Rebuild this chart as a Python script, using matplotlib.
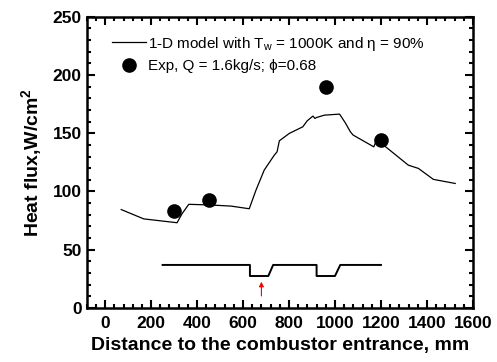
import numpy as np
import matplotlib.pyplot as plt
from matplotlib.ticker import MultipleLocator

plt.rcParams['font.family'] = ['Liberation Sans', 'DejaVu Sans']
plt.rcParams['mathtext.fontset'] = 'custom'
plt.rcParams['mathtext.rm'] = 'Liberation Sans'
plt.rcParams['mathtext.it'] = 'Liberation Sans:italic'
plt.rcParams['mathtext.bf'] = 'Liberation Sans:bold'

# 1-D model curve
model_x = [70, 168, 313, 335, 364, 450, 547, 627, 656, 692, 736, 748, 758,
           801, 860, 879, 904, 913, 920, 954, 1020, 1045, 1067, 1079, 1169,
           1176, 1217, 1319, 1363, 1428, 1523]
model_y = [84.5, 76.5, 73.2, 81, 89, 88.5, 87.5, 85.2, 101, 118.3, 131.2, 134, 143.5,
           149.8, 155.5, 160.6, 164.7, 162.7, 163.5, 165.5, 166.4, 158.9, 151.2,
           148.4, 138.3, 141.8, 138.9, 122.6, 119.8, 110.4, 106.9]

# experiment
exp_x = [300, 450, 960, 1200]
exp_y = [83, 93, 190, 144]

# combustor wall profile sketch
wall_x = [250, 630, 630, 710, 731, 920, 920, 1000, 1023, 1200]
wall_y = [37, 37, 27.5, 27.5, 37, 37, 27.5, 27.5, 37, 37]

fig = plt.figure(figsize=(4.97, 3.62), dpi=100)
ax = fig.add_axes([0.1745, 0.149, 0.777, 0.805])

ax.plot(model_x, model_y, color='black', lw=0.9,
        label='1-D model with T$_{\\rm w}$ = 1000K and \u03b7 = 90%')
ax.plot(exp_x, exp_y, 'o', color='black', ms=9.5,
        label='Exp, Q = 1.6kg/s; \u03d5=0.68')
ax.plot(wall_x, wall_y, color='black', lw=1.4)
ax.annotate('', xy=(680, 25), xytext=(680, 8),
            arrowprops=dict(arrowstyle='-|>', color='red', lw=0.8,
                            mutation_scale=7))

ax.set_xlim(-80, 1600)
ax.set_ylim(0, 250)
ax.xaxis.set_major_locator(MultipleLocator(200))
ax.xaxis.set_minor_locator(MultipleLocator(40))
ax.yaxis.set_major_locator(MultipleLocator(50))
ax.yaxis.set_minor_locator(MultipleLocator(10))
ax.tick_params(which='both', direction='in', top=True, right=True, width=1.5)
ax.tick_params(which='major', length=6)
ax.tick_params(which='minor', length=3)
for s in ax.spines.values():
    s.set_linewidth(1.8)

for lab in ax.get_xticklabels() + ax.get_yticklabels():
    lab.set_fontweight('bold')
    lab.set_fontsize(12.5)
ax.tick_params(axis='x', pad=6)

ax.set_xlabel('Distance to the combustor entrance, mm', fontweight='bold', fontsize=14)
ax.set_ylabel('Heat flux,W/cm$^{\\bf 2}$', fontweight='bold', fontsize=14, labelpad=6)

ax.legend(loc='upper left', bbox_to_anchor=(0.03, 0.985), frameon=False,
          fontsize=11, handlelength=2.2, handletextpad=0.15, labelspacing=0.4,
          numpoints=1)

fig.savefig('out.png', dpi=100)
